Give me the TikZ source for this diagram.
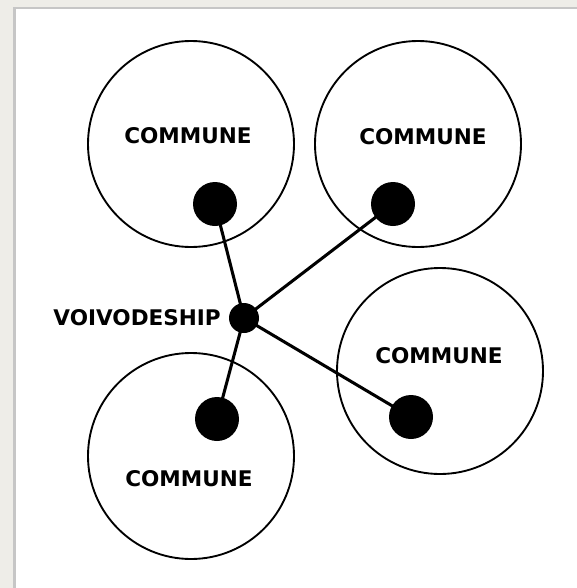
\documentclass[tikz,border=0pt]{standalone}
\usepackage{fontspec}
\setmainfont{DejaVu Sans}
\usepackage{tikz}

\begin{document}
\begin{tikzpicture}[x=0.3mm, y=-0.3mm,
    commune/.style={draw, circle, line width=1.6pt, minimum size=61.8mm, inner sep=0pt},
    seat/.style={fill, circle, inner sep=0pt, minimum size=13.2mm},
    hub/.style={fill, circle, inner sep=0pt, minimum size=9mm},
    label/.style={font=\bfseries\fontsize{18.4}{20}\selectfont, inner sep=0pt}]
      % backdrop and paper
      \useasboundingbox (0,0) rectangle (577,588);
      \fill[color={rgb,255:red,238;green,237;blue,232}] (0,0) rectangle (577,588);
      \fill[gray!45] (13,7) rectangle (577,588);
      \fill[white] (16,9) rectangle (577,588);

      % communes
      \node (c1) at (191,144) [commune] {};
      \node (c2) at (418,144) [commune] {};
      \node (c3) at (440,371) [commune] {};
      \node (c4) at (191,456) [commune] {};
      \node (t1) at (188,136) [label] {COMMUNE};
      \node (t2) at (423,137) [label] {COMMUNE};
      \node (t3) at (439,356) [label] {COMMUNE};
      \node (t4) at (189,479) [label] {COMMUNE};

      % seats and voivodeship
      \node (s1) at (215,204) [seat] {};
      \node (s2) at (393,204) [seat] {};
      \node (s3) at (411,417) [seat] {};
      \node (s4) at (217,419) [seat] {};
      \node (v) at (244,318) [hub] {};
      \node (tv) at (221,318) [label, anchor=east] {VOIVODESHIP};
      \draw[line width=2.6pt] 
      (s1.center) to (v.center) to (s2.center)
      (s3.center) to (v.center) to (s4.center);
\end{tikzpicture}
\end{document}
